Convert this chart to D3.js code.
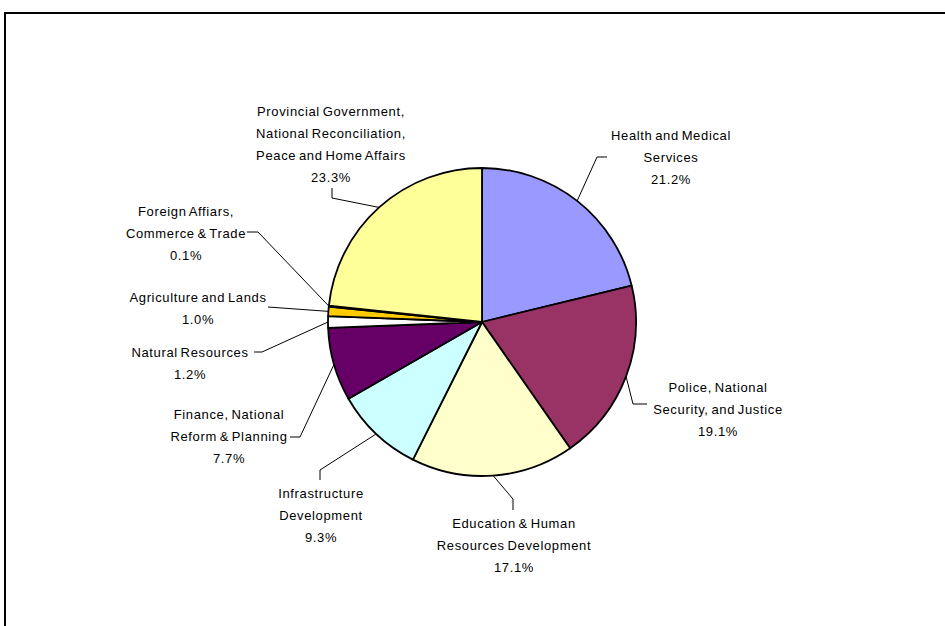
<!DOCTYPE html>
<html>
<head>
<meta charset="utf-8">
<script src="https://cdn.jsdelivr.net/npm/d3@7"></script>
<style>
  html, body { margin: 0; padding: 0; background: #fff; }
  svg { display: block; }
  .lbl { font-family: Arial, "Liberation Sans", sans-serif; font-size: 13px; letter-spacing: 0.65px; word-spacing: -1.5px; fill: #000; }
</style>
</head>
<body>
<svg id="chart" width="945" height="626"></svg>
<script>
// Budget share by sector, clockwise from 12 o'clock
const categories = [
  ["Health and Medical", "Services"],
  ["Police, National", "Security, and Justice"],
  ["Education & Human", "Resources Development"],
  ["Infrastructure", "Development"],
  ["Finance, National", "Reform & Planning"],
  ["Natural Resources"],
  ["Agriculture and Lands"],
  ["Foreign Affiars,", "Commerce & Trade"],
  ["Provincial Government,", "National Reconciliation,", "Peace and Home Affairs"]
];
const shares = [21.2, 19.1, 17.1, 9.3, 7.7, 1.2, 1.0, 0.1, 23.3];
const percentLabels = ["21.2%", "19.1%", "17.1%", "9.3%", "7.7%", "1.2%", "1.0%", "0.1%", "23.3%"];

const colors = ["#9999FF", "#993366", "#FFFFCC", "#CCFFFF", "#660066", "#FFFFFF", "#FFCC00", "#FF8080", "#FFFF99"];

// Label placement: text centre x, first line centre y, leader path points after the slice edge
const labelLayout = [
  { x: 671, y: 135, leader: [[597, 157], [607, 157]] },
  { x: 718, y: 387, leader: [[633, 404], [647, 404]] },
  { x: 514, y: 523, leader: [[513, 499], [513, 510]] },
  { x: 321, y: 493, leader: [[320, 470], [320, 480]] },
  { x: 229, y: 414, leader: [[300, 437], [290, 437]] },
  { x: 190, y: 352, leader: [[262, 352], [254, 352]] },
  { x: 198, y: 297, leader: [[268, 307]] },
  { x: 186, y: 211, leader: [[258, 232], [247, 232]] },
  { x: 331, y: 111, leader: [[332, 198], [332, 188]] }
];

const svg = d3.select("#chart");
const cx = 482, cy = 322, radius = 154;
const lineGap = 22;

// Chart area frame
svg.append("rect")
  .attr("x", 5).attr("y", 13)
  .attr("width", 1000).attr("height", 700)
  .attr("fill", "none").attr("stroke", "#000").attr("stroke-width", 2);

const pie = d3.pie().sort(null).value(d => d);
const arcs = pie(shares);
const arc = d3.arc().innerRadius(0).outerRadius(radius);

const g = svg.append("g").attr("transform", `translate(${cx},${cy})`);

g.selectAll("path.slice")
  .data(arcs)
  .join("path")
  .attr("class", "slice")
  .attr("d", arc)
  .attr("fill", (d, i) => colors[i])
  .attr("stroke", "#000")
  .attr("stroke-width", 1.8)
  .attr("stroke-linejoin", "round");

// Leader lines from the middle of each slice's rim
const line = d3.line();
arcs.forEach((d, i) => {
  const mid = (d.startAngle + d.endAngle) / 2;
  const start = [cx + radius * Math.sin(mid), cy - radius * Math.cos(mid)];
  svg.append("path")
    .attr("d", line([start, ...labelLayout[i].leader]))
    .attr("fill", "none")
    .attr("stroke", "#000")
    .attr("stroke-width", 1);
});

// Labels: category lines followed by the percentage
categories.forEach((lines, i) => {
  const L = labelLayout[i];
  const all = [...lines, percentLabels[i]];
  const t = svg.append("text")
    .attr("class", "lbl")
    .attr("text-anchor", "middle");
  all.forEach((s, k) => {
    t.append("tspan")
      .attr("x", L.x)
      .attr("y", L.y + k * lineGap + 4.5)
      .text(s);
  });
});
</script>
</body>
</html>
